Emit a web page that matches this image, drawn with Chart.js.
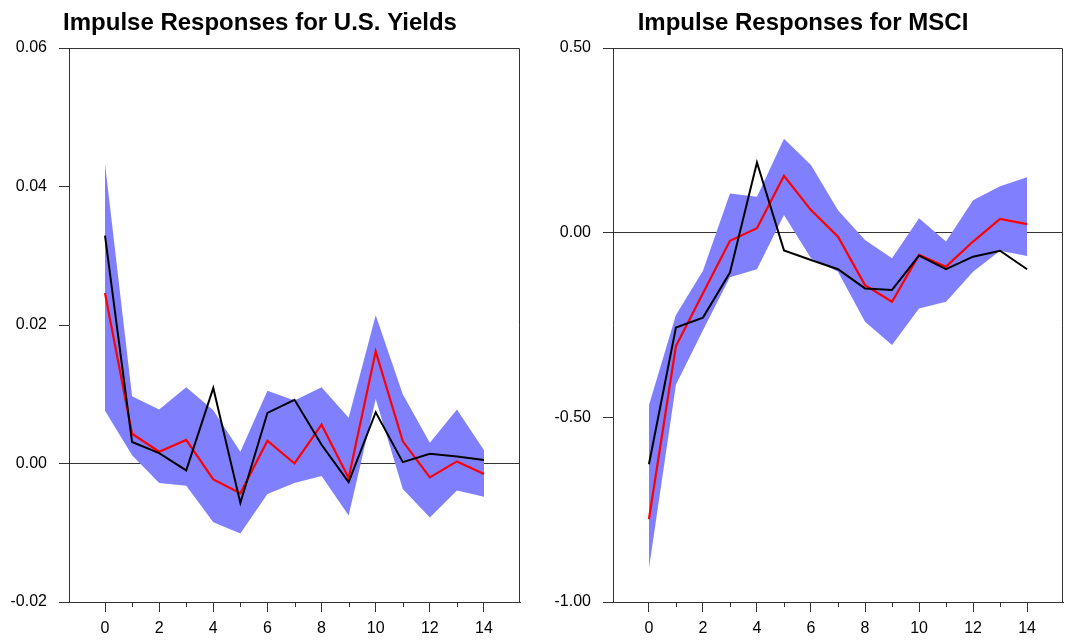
<!DOCTYPE html>
<html>
<head>
<meta charset="utf-8">
<script src="https://cdn.jsdelivr.net/npm/chart.js"></script>
<style>
  html, body { margin: 0; padding: 0; background: #fff; }
  .box { position: absolute; top: 0; height: 641px; }
</style>
</head>
<body>
<div class="box" style="left:0;width:525px"><canvas id="yields"></canvas></div>
<div class="box" style="left:543px;width:522px"><canvas id="msci"></canvas></div>
<script>
// horizons and tick positions
const horizons = [0,1,2,3,4,5,6,7,8,9,10,11,12,13,14];
const xMajor = [0,2,4,6,8,10,12,14];
const xMinor = [1,3,5,7,9,11,13];

// U.S. Yields
const yieldsMean  = [0.0246,0.0043,0.0017,0.0034,-0.0023,-0.0043,0.0033,0.0000,0.0056,-0.0021,0.0162,0.0032,-0.0020,0.0003,-0.0015];
const yieldsPoint = [0.0329,0.0031,0.0015,-0.0010,0.0109,-0.0057,0.0073,0.0092,0.0027,-0.0027,0.0074,0.0002,0.0014,0.0010,0.0005];
const yieldsUpper = [0.0433,0.0097,0.0078,0.0110,0.0077,0.0017,0.0105,0.0091,0.0110,0.0066,0.0214,0.0100,0.0030,0.0078,0.0019];
const yieldsLower = [0.0076,0.0012,-0.0028,-0.0032,-0.0085,-0.0101,-0.0044,-0.0028,-0.0018,-0.0075,0.0093,-0.0037,-0.0078,-0.0039,-0.0048];
const yieldsTicks = [-0.02,0,0.02,0.04,0.06];

// MSCI
const msciMean  = [-0.776,-0.307,-0.164,-0.022,0.012,0.154,0.061,-0.011,-0.142,-0.187,-0.060,-0.092,-0.024,0.037,0.023];
const msciPoint = [-0.627,-0.257,-0.230,-0.108,0.190,-0.048,-0.074,-0.099,-0.151,-0.155,-0.062,-0.099,-0.065,-0.049,-0.099];
const msciUpper = [-0.467,-0.223,-0.103,0.106,0.097,0.254,0.183,0.061,-0.020,-0.069,0.039,-0.024,0.088,0.126,0.150];
const msciLower = [-0.909,-0.412,-0.264,-0.121,-0.099,0.048,-0.069,-0.106,-0.241,-0.304,-0.205,-0.187,-0.106,-0.049,-0.063];
const msciTicks = [-1.0,-0.5,0,0.5];

const FONT = "'Liberation Sans', Arial, sans-serif";
const AXIS = '#333';

const pts = arr => horizons.map((h, i) => ({x: h, y: arr[i]}));

const frame = {
  id: 'frame',
  afterDraw(chart) {
    const {ctx, chartArea: a, scales} = chart;
    ctx.save();
    ctx.strokeStyle = AXIS;
    ctx.lineWidth = 1;
    ctx.beginPath();
    ctx.moveTo(a.left, a.top + 0.5);
    ctx.lineTo(a.right - 0.5, a.top + 0.5);
    ctx.lineTo(a.right - 0.5, a.bottom);
    // minor ticks on the horizon axis
    xMinor.forEach(v => {
      const px = Math.round(scales.x.getPixelForValue(v)) + 0.5;
      ctx.moveTo(px, a.bottom);
      ctx.lineTo(px, a.bottom + 5);
    });
    ctx.stroke();
    ctx.restore();
  }
};

function makeChart(id, title, mean, point, upper, lower, yTicks, padRight, yWidth) {
  return new Chart(document.getElementById(id), {
    type: 'line',
    data: {
      datasets: [
        {data: pts(upper), fill: '+1', backgroundColor: '#8080FF', borderWidth: 0, pointRadius: 0, order: 3},
        {data: pts(lower), fill: false, borderWidth: 0, pointRadius: 0, order: 4},
        {data: pts(mean), borderColor: '#FF0000', borderWidth: 2.2, pointRadius: 0, fill: false, order: 2},
        {data: pts(point), borderColor: '#000000', borderWidth: 2, pointRadius: 0, fill: false, order: 1}
      ]
    },
    options: {
      responsive: true,
      maintainAspectRatio: false,
      animation: false,
      events: [],
      layout: {padding: {left: 0, right: padRight, top: 0, bottom: 0}},
      plugins: {
        legend: {display: false},
        tooltip: {enabled: false},
        title: {
          display: true, text: title, color: '#000',
          font: {family: FONT, size: 24, weight: 'bold', lineHeight: 1.2},
          padding: {top: 8.5, bottom: 10.7}
        }
      },
      scales: {
        x: {
          type: 'linear', min: -1.33, max: 15.33,
          afterBuildTicks: s => { s.ticks = xMajor.map(v => ({value: v})); },
          afterFit: s => { s.height = 39; },
          grid: {drawOnChartArea: false, tickLength: 10, tickColor: AXIS},
          border: {color: AXIS},
          ticks: {color: '#000', padding: 7, autoSkip: false, maxRotation: 0,
                  font: {family: FONT, size: 16}}
        },
        y: {
          min: yTicks[0], max: yTicks[yTicks.length - 1],
          afterBuildTicks: s => { s.ticks = yTicks.map(v => ({value: v})); },
          afterFit: s => { s.width = yWidth; },
          grid: {
            tickLength: 10, tickColor: AXIS,
            color: c => (c.tick && Math.abs(c.tick.value) < 1e-9) ? AXIS : 'rgba(0,0,0,0)'
          },
          border: {color: AXIS},
          ticks: {color: '#000', padding: 12,
                  font: {family: FONT, size: 16},
                  callback: v => v.toFixed(2)}
        }
      }
    },
    plugins: [frame]
  });
}

makeChart('yields', 'Impulse Responses for U.S. Yields', yieldsMean, yieldsPoint, yieldsUpper, yieldsLower, yieldsTicks, 5, 69);
makeChart('msci', 'Impulse Responses for MSCI', msciMean, msciPoint, msciUpper, msciLower, msciTicks, 2, 70);
</script>
</body>
</html>
